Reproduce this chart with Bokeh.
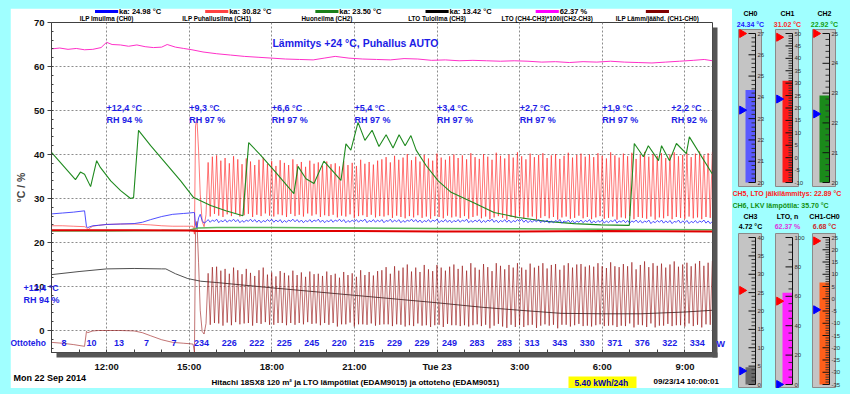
import numpy as np
from bokeh.plotting import figure
from bokeh.models import Range1d, FixedTicker, GridBox
from bokeh.layouts import row, column
from bokeh.embed import file_html
from bokeh.resources import INLINE
from bokeh.core.properties import value

CYAN = "#a0ffff"
FONT = "Liberation Sans"
TBLUE = "#1c1ce6"

# ---------------- axes ----------------
x_tick_hours = [12, 15, 18, 21, 24, 27, 30, 33]
x_tick_labels = ["12:00", "15:00", "18:00", "21:00", "Tue 23", "3:00", "6:00", "9:00"]
y_ticks = [0, 10, 20, 30, 40, 50, 60, 70]

# ---------------- CH0 / CH1 (common sampling) ----------------
t_pre = [10.0, 10.4, 10.8, 11.2, 11.27, 11.32, 11.4, 11.5, 11.7, 12.0, 12.5, 13.0, 13.3,
         13.6, 14.0, 14.4, 14.8, 15.0, 15.14, 15.19, 15.23, 15.28, 15.34, 15.40, 15.47, 15.54]
ch0_pre = [26.5, 26.7, 26.9, 27.2, 23.6, 23.4, 23.6, 23.8, 23.9, 24.1, 24.2, 24.3, 24.6,
           25.2, 25.9, 26.4, 26.6, 26.7, 26.8, 26.8, 24.0, 23.4, 25.6, 26.4, 25.0, 24.4]
ch1_pre = [23.8, 23.8, 23.7, 23.6, 23.4, 22.9, 23.3, 23.7, 23.9, 24.1, 24.2, 24.2, 24.1,
           24.0, 23.8, 23.7, 23.7, 23.7, 23.7, 21.9, 46.5, 48.2, 41.0, 31.0, 24.8, 23.6]

OSC_T0 = 15.61        # first sample of the cycling period (h)
OSC_DT = 1.0 / 13.0   # logging interval (h)
ch1_peaks = [
    38.2, 39.5, 39.8, 38.6, 39.2, 38.0, 39.6, 38.9, 37.8, 39.1,
    38.4, 37.6, 38.8, 39.3, 37.9, 38.5, 37.4, 38.7, 38.1, 37.6,
    38.9, 37.8, 38.3, 37.2, 38.6, 37.9, 38.2, 37.5, 38.4, 37.8,
    38.0, 37.3, 38.5, 37.6, 38.1, 37.4, 38.8, 37.9, 38.3, 37.7,
    38.6, 38.9, 39.4, 38.2, 39.7, 38.8, 39.3, 40.1, 38.7, 39.5,
    38.4, 39.9, 39.1, 38.6, 40.2, 39.3, 38.8, 39.6, 40.0, 39.2,
    39.8, 38.9, 40.3, 39.4, 39.0, 40.1, 39.5, 38.8, 40.4, 39.7,
    39.1, 40.0, 39.3, 40.5, 39.6, 38.9, 40.2, 39.4, 39.9, 40.3,
    39.2, 39.8, 40.1, 39.0, 39.7, 40.4, 39.3, 39.9, 40.2, 39.5,
    40.0, 39.4, 40.3, 39.7, 39.1, 40.5, 39.8, 39.3, 40.2, 39.6,
    40.4, 39.0, 39.9, 40.6, 39.5, 40.1, 39.7, 40.3, 39.2, 40.0,
    40.5, 39.6, 39.9, 40.4, 39.4, 40.2, 40.7, 39.8, 40.3, 40.6]
ch1_troughs = [
    26.3, 25.9, 26.5, 26.1, 25.8, 26.4, 26.0, 26.6, 25.9, 26.2,
    26.5, 25.8, 26.3, 26.0, 26.6, 26.1, 25.9, 26.4, 26.2, 25.8,
    26.5, 26.0, 26.3, 25.9, 26.6, 26.1, 26.4, 25.8, 26.2, 26.0,
    26.3, 25.7, 26.1, 25.9, 26.4, 25.6, 26.0, 26.2, 25.8, 26.3,
    25.7, 26.0, 25.9, 26.2, 25.6, 26.1, 25.8, 25.5, 26.0, 25.7,
    26.2, 25.6, 25.9, 25.4, 26.0, 25.8, 25.5, 26.1, 25.7, 25.9,
    25.6, 26.0, 25.4, 25.8, 26.1, 25.5, 25.9, 25.3, 25.7, 26.0,
    25.6, 25.2, 25.8, 25.5, 26.0, 25.4, 25.7, 25.9, 25.3, 25.6,
    26.0, 25.5, 25.8, 25.2, 25.7, 25.9, 25.4, 25.6, 26.1, 25.5,
    25.8, 25.3, 25.7, 26.0, 25.4, 25.6, 25.9, 25.2, 25.7, 25.5,
    26.0, 25.3, 25.8, 25.6, 25.4, 25.9, 25.2, 25.7, 25.5, 26.0,
    25.3, 25.8, 25.6, 25.4, 25.9, 25.5, 25.7, 25.3, 25.8, 25.6]
ch0_at_troughs = [
    24.7, 24.6, 24.8, 24.5, 24.7, 24.6, 24.8, 24.7, 24.5, 24.6, 24.8, 24.7, 24.6, 24.5, 24.7, 24.8, 24.6, 24.7, 24.5, 24.6,
    24.8, 24.7, 24.6, 24.5, 24.7, 24.6, 24.8, 24.6, 24.5, 24.7, 24.6, 24.8, 24.7, 24.5, 24.6, 24.7, 24.6, 24.8, 24.5, 24.7,
    24.6, 24.7, 24.5, 24.8, 24.6, 24.7, 24.5, 24.6, 24.8, 24.7, 24.6, 24.5, 24.7, 24.6, 24.8, 24.5, 24.7, 24.6, 24.5, 24.7,
    24.6, 24.8, 24.5, 24.6, 24.7, 24.5, 24.6, 24.8, 24.6, 24.5, 24.7, 24.6, 24.5, 24.7, 24.8, 24.6, 24.5, 24.6, 24.7, 24.5,
    24.6, 24.4, 24.5, 24.7, 24.4, 24.6, 24.5, 24.4, 24.6, 24.5, 24.7, 24.4, 24.5, 24.6, 24.4, 24.5, 24.7, 24.4, 24.6, 24.5,
    24.4, 24.6, 24.5, 24.4, 24.6, 24.3, 24.5, 24.6, 24.4, 24.5, 24.3, 24.6, 24.4, 24.5, 24.3, 24.5, 24.4, 24.6, 24.4, 24.3]
ch0_at_peaks = [
    25.2, 25.1, 25.3, 25.0, 25.2, 25.1, 25.3, 25.2, 25.0, 25.1, 25.3, 25.2, 25.1, 25.0, 25.2, 25.3, 25.1, 25.2, 25.0, 25.1,
    25.3, 25.2, 25.1, 25.0, 25.2, 25.1, 25.3, 25.1, 25.0, 25.2, 25.1, 25.3, 25.2, 25.0, 25.1, 25.2, 25.1, 25.3, 25.0, 25.2,
    25.1, 25.2, 25.0, 25.3, 25.1, 25.2, 25.0, 25.1, 25.3, 25.2, 25.1, 25.0, 25.2, 25.1, 25.3, 25.0, 25.2, 25.1, 25.0, 25.2,
    25.1, 25.3, 25.0, 25.1, 25.2, 25.0, 25.1, 25.3, 25.1, 25.0, 25.2, 25.1, 25.0, 25.2, 25.3, 25.1, 25.0, 25.1, 25.2, 25.0,
    25.1, 24.9, 25.0, 25.2, 24.9, 25.1, 25.0, 24.9, 25.1, 25.0, 25.2, 24.9, 25.0, 25.1, 24.9, 25.0, 25.2, 24.9, 25.1, 25.0,
    24.9, 25.1, 25.0, 24.9, 25.1, 24.8, 25.0, 25.1, 24.9, 25.0, 24.8, 25.1, 24.9, 25.0, 24.8, 25.0, 24.9, 25.1, 24.9, 24.8]

# ---------------- other channels ----------------
ch2_t = [10.0, 12.0, 14.0, 15.0, 15.3, 16.0, 18.0, 21.0, 24.0, 27.0, 30.0, 34.0]
ch2_v = [22.6, 22.6, 22.7, 22.8, 23.3, 23.4, 23.4, 23.3, 23.2, 23.1, 23.0, 22.9]
ch5_t = [10.0, 13.0, 15.0, 15.3, 18.0, 21.0, 24.0, 27.0, 30.0, 34.0]
ch5_v = [22.8, 22.8, 22.7, 22.6, 22.6, 22.6, 22.5, 22.5, 22.6, 22.5]
ch3_t = [10, 11, 12, 13, 14, 14.15, 14.5, 14.95, 15.42, 16, 18, 21, 24, 25.6, 27, 28.5, 30, 31.4, 33, 34]
ch3_v = [12.7, 13.4, 14.0, 14.1, 14.0, 14.0, 12.9, 11.8, 11.2, 10.9, 9.7, 8.0, 6.3, 5.3, 4.6, 3.9, 3.8, 3.8, 4.2, 4.6]
lkv_t = [10.00, 10.87, 11.05, 11.20, 11.42, 11.64, 11.78, 12.15, 12.51, 12.87,
         12.98, 13.16, 13.60, 14.15, 14.69, 15.16, 15.78, 16.33, 16.95, 17.16,
         17.60, 18.15, 18.80, 18.95, 19.24, 19.53, 19.89, 20.51, 20.69, 20.87,
         21.13, 21.38, 21.64, 21.89, 22.15, 22.40, 22.62, 22.84, 23.05, 23.24,
         23.60, 24.04, 24.51, 25.35, 26.07, 26.95, 27.96, 28.98, 29.96, 30.98,
         31.16, 31.49, 31.67, 32.04, 32.15, 32.44, 32.69, 33.05, 33.16, 34.00]
lkv_v = [40.5, 34.3, 36.0, 35.5, 32.7, 38.6, 37.0, 34.0, 31.8, 30.0,
         30.2, 45.5, 42.0, 38.0, 34.0, 30.2, 28.4, 27.2, 26.1, 42.7,
         39.8, 35.9, 31.1, 37.3, 34.5, 33.4, 38.5, 34.1, 42.4, 41.0,
         47.3, 43.2, 45.5, 41.8, 44.5, 41.5, 44.5, 42.0, 44.3, 41.0,
         37.5, 34.0, 31.4, 29.0, 26.8, 25.7, 24.8, 24.3, 24.0, 23.9,
         42.5, 39.5, 42.0, 38.6, 42.0, 38.6, 42.5, 40.2, 44.0, 35.5]
lto_t = [10.0, 10.3, 10.6, 10.9, 11.2, 11.5, 11.8, 12.0, 12.2, 12.5,
         12.8, 13.1, 13.4, 13.7, 14.0, 14.2, 14.5, 14.8, 15.1, 15.5,
         16.0, 16.5, 17.0, 17.5, 18.0, 18.5, 19.0, 19.5, 19.9, 20.3,
         20.8, 21.3, 21.8, 22.3, 22.8, 23.3, 23.8, 24.3, 24.8, 25.3,
         25.8, 26.3, 26.8, 27.3, 27.8, 28.3, 28.8, 29.3, 29.8, 30.3,
         30.8, 31.3, 31.8, 32.3, 32.8, 33.3, 33.7, 34.0]
lto_v = [64.0, 64.2, 63.9, 64.1, 63.8, 63.9, 64.3, 65.5, 65.0, 64.9,
         64.6, 64.9, 64.5, 64.3, 64.4, 65.0, 64.4, 64.1, 63.8, 63.3,
         62.9, 62.6, 62.3, 62.1, 61.9, 61.7, 61.6, 61.5, 61.9, 62.3,
         61.9, 61.7, 61.6, 61.5, 61.8, 61.7, 61.4, 61.5, 61.3, 61.4,
         61.3, 61.2, 61.3, 61.2, 61.0, 61.1, 60.9, 61.1, 61.0, 61.2,
         61.0, 60.9, 60.8, 61.0, 61.2, 61.4, 61.6, 61.3]

# ---------------- annotations ----------------
legend_names = ["ILP Imuilma (CH0)", "ILP Puhallusilma (CH1)", "Huoneilma (CH2)",
                "LTO Tuloilma (CH3)", "LTO (CH4-CH3)*100/(CH2-CH3)", "ILP Lämm/jäähd. (CH1-CH0)"]
legend_avgs = ["ka: 24.98 °C", "ka: 30.82 °C", "ka: 23.50 °C", "ka: 13.42 °C", "62.37 %", ""]
legend_colors = ["#0000ff", "#ff4040", "#1a801a", "#000000", "#ff00ff", "#800000"]

outdoor_hours = [12, 15, 18, 21, 24, 27, 30, 32.5]
outdoor_temp = ["+12,4 °C", "+9,3 °C", "+6,6 °C", "+5,4 °C", "+3,4 °C", "+2,7 °C", "+1,9 °C", "+2,2 °C"]
outdoor_rh = ["RH 94 %", "RH 97 %", "RH 97 %", "RH 97 %", "RH 97 %", "RH 97 %", "RH 97 %", "RH 92 %"]
power_hours = list(range(10, 34))
power_w = [8, 10, 13, 7, 7, 234, 226, 222, 225, 245, 220, 215, 229, 229, 249,
           283, 283, 313, 343, 330, 371, 376, 322, 334]
energy_text = "5.40  kWh/24h"
date_text = "Mon 22 Sep 2014"
stamp_text = "09/23/14 10:00:01"
footer_text = "Hitachi 18SX8 120 m² ja LTO lämpötilat (EDAM9015) ja ottoteho (EDAM9051)"
state_text = "Lämmitys +24 °C, Puhallus AUTO"

gauge_names = ["CH0", "CH1", "CH2", "CH3", "LTO, n", "CH1-CH0"]
gauge_values = [24.34, 31.02, 22.92, 4.72, 62.37, 6.68]
gauge_texts = ["24.34 °C", "31.02 °C", "22.92 °C", "4.72 °C", "62.37 %", "6.68 °C"]
gauge_min = [20, -10, 20, 0, 0, -35]
gauge_max = [27, 50, 25, 40, 100, 25]
gauge_major = [1, 5, 1, 5, 20, 5]
gauge_minor = [0.2, 1, 0.2, 1, 5, 1]
gauge_hi_mark = [27.0, 48.5, 25.0, 25.6, 56.7, 23.6]
gauge_lo_mark = [23.4, 23.6, 22.3, 3.7, 0.0, -4.5]
gauge_bar_colors = ["#5a5aff", "#ff1a1a", "#1a8a1a", "#6a6a6a", "#ff22ff", "#ff5f1a"]
gauge_text_colors = ["#2020ff", "#ff2a2a", "#10a010", "#000000", "#dd33dd", "#cc2a2a"]
extra_lines = ["CH5, LTO jälkilämmitys: 22.89 °C", "CH6, LKV lämpötila: 35.70 °C"]
extra_colors = ["#ff2020", "#109010"]

# ---------------- assemble CH0/CH1 ----------------
n_osc = 2 * len(ch1_peaks)
t_osc = OSC_T0 + np.arange(n_osc) * OSC_DT
ch1_osc = np.empty(n_osc)
ch1_osc[0::2] = ch1_troughs
ch1_osc[1::2] = ch1_peaks
ch0_osc = np.empty(n_osc)
ch0_osc[0::2] = ch0_at_troughs
ch0_osc[1::2] = ch0_at_peaks
t_all = np.concatenate([t_pre, t_osc])
ch0_all = np.concatenate([ch0_pre, ch0_osc])
ch1_all = np.concatenate([ch1_pre, ch1_osc])
diff_all = ch1_all - ch0_all

# ---------------- geometry (page px, content origin at page (10, 8)) ----------------
FW, FH = 661, 330
PXH = FW / 24.0
PXV = FH / 75.0
MAIN_W, MAIN_H = 722, 380
ML, MT = 41, 14


def hx(xp):   # page x pixel -> hours
    return 10 + (xp - 51) / PXH


def vy(yp):   # page y pixel -> value
    return 70 - (yp - 22) / PXV


def no_align(fig):
    if "frame_align" in fig.properties():
        fig.frame_align = False


# ---------------- main figure ----------------
p = figure(frame_width=FW, frame_height=FH, x_range=Range1d(10, 34), y_range=Range1d(-5, 70),
           min_border_left=ML, min_border_right=MAIN_W - ML - FW, min_border_top=MT,
           min_border_bottom=MAIN_H - MT - FH,
           output_backend="svg", toolbar_location=None,
           background_fill_color="white", border_fill_color="white",
           outline_line_color="#404040")
no_align(p)

p.xaxis.ticker = FixedTicker(ticks=x_tick_hours, minor_ticks=list(range(10, 35)))
p.xaxis.major_label_overrides = {h: lab for h, lab in zip(x_tick_hours, x_tick_labels)}
p.xaxis.major_tick_in = 0
p.xaxis.major_tick_out = 0
p.xaxis.minor_tick_in = 3
p.xaxis.minor_tick_out = 0
p.xaxis.major_label_standoff = 8
p.yaxis.ticker = FixedTicker(ticks=y_ticks, minor_ticks=list(range(-4, 70, 2)))
p.yaxis.major_tick_in = 0
p.yaxis.major_tick_out = 4
p.yaxis.minor_tick_in = 2
p.yaxis.minor_tick_out = 0
p.yaxis.major_label_standoff = 3
p.yaxis.axis_label = "°C / %"
p.yaxis.axis_label_text_font = FONT
p.yaxis.axis_label_text_font_style = "bold"
p.yaxis.axis_label_text_font_size = "10.5px"
p.yaxis.axis_label_standoff = 4
for ax in (p.xaxis, p.yaxis):
    ax.major_label_text_font = FONT
    ax.major_label_text_font_style = "bold"
    ax.major_label_text_font_size = "9.5px"
    ax.major_label_text_color = "#111111"
    ax.axis_line_color = "#404040"
    ax.major_tick_line_color = "#404040"
    ax.minor_tick_line_color = "#404040"
p.xgrid.ticker = FixedTicker(ticks=x_tick_hours)
p.ygrid.ticker = FixedTicker(ticks=y_ticks)
p.grid.grid_line_color = "#8c8c8c"
p.grid.grid_line_dash = "2 2"

p.line(lto_t, lto_v, line_color="#ff30c8", line_width=1)
p.line(ch3_t, ch3_v, line_color="#505050", line_width=1)
p.line(t_all, diff_all, line_color="#900000", line_alpha=0.55, line_width=1)
p.line(t_all, ch1_all, line_color="#ff2020", line_alpha=0.6, line_width=1)
p.line(lkv_t, lkv_v, line_color="#1f8a1f", line_width=1.1)
p.line(ch2_t, ch2_v, line_color="#5cb85c", line_width=1.5)
p.line(ch5_t, ch5_v, line_color="#e00000", line_width=2)
p.line(t_all, ch0_all, line_color="#3030ff", line_alpha=0.85, line_width=1)

TXT = dict(text_font=value(FONT), text_font_style="bold", text_baseline="middle")
p.text(x=[18.02], y=[vy(42)], text=[state_text], text_font_size="10.5px", text_color=TBLUE, **TXT)
p.text(x=outdoor_hours, y=[vy(107)] * len(outdoor_hours), text=outdoor_temp,
       text_font_size="9px", text_color=TBLUE, **TXT)
p.text(x=outdoor_hours, y=[vy(119)] * len(outdoor_hours), text=outdoor_rh,
       text_font_size="9px", text_color=TBLUE, **TXT)
p.text(x=[h + 0.45 for h in power_hours], y=[vy(342)] * len(power_hours),
       text=[str(w) for w in power_w], text_font_size="9px", text_color=TBLUE,
       text_align="center", **TXT)

# ---------------- overlay for everything outside the plot frame ----------------
ov = figure(width=MAIN_W, height=MAIN_H, x_range=Range1d(hx(10), hx(10 + MAIN_W)),
            y_range=Range1d(vy(8 + MAIN_H), vy(8)), x_axis_type=None, y_axis_type=None,
            min_border=0, toolbar_location=None, output_backend="svg",
            background_fill_color=None, border_fill_color=None, outline_line_color=None)
no_align(ov)


def otext(x, y, text, size, color="#000000", align="left"):
    ov.text(x=[x], y=[y], text=[text], text_font=value(FONT), text_font_style="bold",
            text_font_size=size, text_color=color, text_align=align, text_baseline="middle")


# frame shadow
ov.quad(left=[34.0, 10 + 5 / PXH], right=[34 + 5 / PXH, 34 + 5 / PXH],
        top=[70 - 5 / PXV, -5], bottom=[-5 - 5 / PXV, -5 - 5 / PXV],
        fill_color="#555555", line_color=None)

# legend
swatch_c = [12, 16, 20, 24, 28, 32]
ov.quad(left=[c - 0.42 for c in swatch_c], right=[c + 0.42 for c in swatch_c],
        top=vy(9.5), bottom=vy(12.5), fill_color=legend_colors, line_color=None)
for i, c in enumerate(swatch_c):
    if legend_avgs[i]:
        otext(c + 0.45, vy(11), legend_avgs[i], "7.5px")
    otext(c, vy(18), legend_names[i], "6.3px", align="center")

otext(hx(23), vy(287), outdoor_temp[0], "9px", TBLUE)
otext(hx(23), vy(299), outdoor_rh[0], "9px", TBLUE)
otext(hx(10), vy(342), "Ottoteho", "8.5px", TBLUE)
otext(hx(716), vy(343), "W", "9px", TBLUE)
otext(hx(13), vy(377), date_text, "9px")
otext(hx(211), vy(382), footer_text, "8px")
ov.quad(left=[hx(568)], right=[hx(636)], top=[vy(376)], bottom=[vy(388)],
        fill_color="#ffff00", line_color=None)
otext(hx(602), vy(382), energy_text, "8.5px", "#0000b0", align="center")
otext(hx(653), vy(381), stamp_text, "8px")

main_box = GridBox(children=[(p, 0, 0), (ov, 0, 0)])


# ---------------- gauges ----------------
def make_gauge(i, H, head_px, box_px, scale_px):
    vmin, vmax = gauge_min[i], gauge_max[i]
    s_top, s_bot = scale_px
    k = (vmax - vmin) / (s_bot - s_top)

    def Y(px):
        return vmax - (px - s_top) * k

    W = 37
    g = figure(width=W, height=H, x_range=Range1d(0, W), y_range=Range1d(Y(H), Y(0)),
               x_axis_type=None, y_axis_type=None, min_border=0, toolbar_location=None,
               output_backend="svg", background_fill_color=CYAN, border_fill_color=CYAN,
               outline_line_color=None)
    g.quad(left=[6], right=[29], top=[Y(box_px[0])], bottom=[Y(box_px[1])],
           fill_color="#c4c4c4", line_color="#8a8a8a")
    g.quad(left=[13], right=[23], bottom=[vmin], top=[gauge_values[i]],
           fill_color=gauge_bar_colors[i], line_color=None)
    majors = np.arange(vmin, vmax + 1e-9, gauge_major[i])
    minors = [m for m in np.arange(vmin, vmax + 1e-9, gauge_minor[i])
              if np.min(np.abs(m - majors)) > 1e-6]
    g.segment(x0=19, x1=23, y0=minors, y1=minors, line_color="#333333", line_width=1)
    g.segment(x0=16, x1=23, y0=majors, y1=majors, line_color="#111111", line_width=1)
    g.segment(x0=[23], x1=[23], y0=[vmin], y1=[vmax], line_color="#111111", line_width=1)
    g.text(x=25, y=majors, text=[f"{m:g}" for m in majors], text_font=value(FONT),
           text_font_size="6px", text_color="#333333", text_baseline="middle")
    g.scatter(x=[9.5], y=[gauge_hi_mark[i]], marker="triangle", size=8, angle=-np.pi / 2,
              fill_color="#ff0000", line_color="#ff0000")
    g.scatter(x=[9.5], y=[gauge_lo_mark[i]], marker="triangle", size=8, angle=-np.pi / 2,
              fill_color="#0000ff", line_color="#0000ff")
    g.text(x=[18], y=[Y(head_px[0])], text=[gauge_names[i]], text_font=value(FONT),
           text_font_style="bold", text_font_size="7px", text_color="#000000",
           text_align="center", text_baseline="middle")
    g.text(x=[18], y=[Y(head_px[1])], text=[gauge_texts[i]], text_font=value(FONT),
           text_font_style="bold", text_font_size="7px", text_color=gauge_text_colors[i],
           text_align="center", text_baseline="middle")
    return g


upper = [make_gauge(i, 181, (5, 16), (21, 178), (25, 174)) for i in range(3)]
lower = [make_gauge(i, 177, (5, 15), (22, 176), (26, 173)) for i in range(3, 6)]

mid = figure(width=111, height=22, x_range=Range1d(0, 111), y_range=Range1d(0, 22),
             x_axis_type=None, y_axis_type=None, min_border=0, toolbar_location=None,
             output_backend="svg", background_fill_color=CYAN, border_fill_color=CYAN,
             outline_line_color=None)
mid.text(x=[0], y=[18], text=[extra_lines[0]], text_font=value(FONT), text_font_style="bold",
         text_font_size="7px", text_color=extra_colors[0], text_baseline="middle")
mid.text(x=[0], y=[6], text=[extra_lines[1]], text_font=value(FONT), text_font_style="bold",
         text_font_size="7px", text_color=extra_colors[1], text_baseline="middle")

layout = row(main_box, column(row(*upper), mid, row(*lower)))

html = file_html(layout, INLINE, title="LTO")
html = html.replace("</head>",
                    "<style>html,body{background:#a0ffff !important;}"
                    "body{margin:0 !important;padding:8px 0 0 10px !important;}</style></head>", 1)
open("out.html", "w").write(html)
